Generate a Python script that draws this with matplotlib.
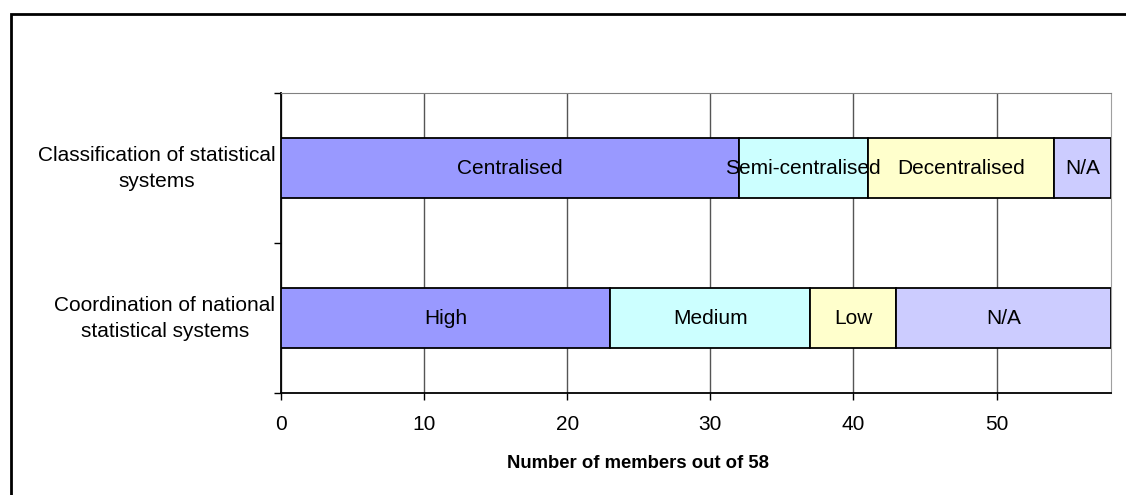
import matplotlib
matplotlib.use("Agg")
import matplotlib.pyplot as plt
from matplotlib.patches import Rectangle

plt.rcParams['font.family'] = ['Liberation Sans', 'DejaVu Sans']

kategorier = ["Coordination of national\nstatistical systems",
              "Classification of statistical\nsystems"]

# segmenter per rad: (etikett, antall)
klassifisering = [("Centralised", 32), ("Semi-centralised", 9),
                  ("Decentralised", 13), ("N/A", 4)]
koordinering = [("High", 23), ("Medium", 14), ("Low", 6), ("N/A", 15)]

farger = ["#9999FF", "#CCFFFF", "#FFFFCC", "#CCCCFF"]
rader = [koordinering, klassifisering]
rad_y = [0.5, 1.5]

fs = 15

fig = plt.figure(figsize=(11.26, 4.95), dpi=100)
ax = fig.add_axes([281/1126, 1 - 393/495, 830/1126, 300/495])

for y, rad in zip(rad_y, rader):
    start = 0
    for (navn, verdi), farge in zip(rad, farger):
        ax.barh(y, verdi, left=start, height=0.4, color=farge,
                edgecolor="black", linewidth=1.3, zorder=3)
        ax.text(start + verdi / 2, y, navn, ha="center", va="center",
                fontsize=fs, zorder=4)
        start += verdi

ax.set_xlim(0, 58)
ax.set_ylim(0, 2)
ax.set_xticks(range(0, 60, 10))
ax.set_yticks([0, 1, 2])
ax.set_yticklabels([])
# kategoritekstene står litt over midten av stolpen
ax.set_yticks([y + 0.033 for y in rad_y], minor=True)
ax.set_yticklabels(kategorier, minor=True, fontsize=fs,
                   multialignment="center", linespacing=1.45)
ax.tick_params(axis="y", which="minor", length=0, pad=4)
ax.tick_params(axis="y", which="major", length=5, width=1)
ax.tick_params(axis="x", length=5, width=1, labelsize=fs, pad=11)

ax.grid(axis="x", color="#555555", linewidth=1, zorder=0)
ax.spines["top"].set_color("#808080")
ax.spines["right"].set_color("#a0a0a0")
ax.spines["left"].set_linewidth(1.3)
ax.spines["bottom"].set_linewidth(1.3)
ax.set_xlabel("Number of members out of 58", fontsize=13.3,
              fontweight="bold", labelpad=13)
ax.xaxis.set_label_coords(0.43, -0.205)

# ramme rundt hele figuren
fig.patches.append(Rectangle((11/1126, -0.1), 1.2, 1 - 14/495 + 0.1,
                             transform=fig.transFigure, fill=False,
                             edgecolor="black", linewidth=2))

fig.savefig("out.png", dpi=100)
